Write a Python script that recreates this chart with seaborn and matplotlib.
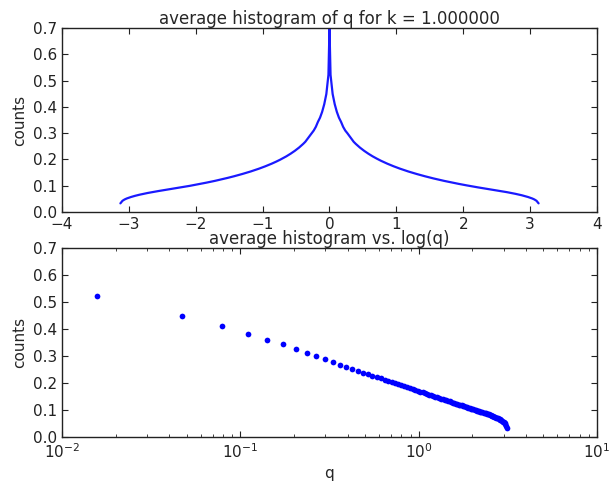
import matplotlib
matplotlib.use("Agg")
import matplotlib.pyplot as plt
import seaborn as sns
import pandas as pd

# positive-side bin centres of q
q_pos = [0.0157, 0.0471, 0.0785, 0.1100, 0.1414, 0.1728, 0.2042, 0.2356, 0.2670, 0.2985,
         0.3299, 0.3613, 0.3927, 0.4241, 0.4555, 0.4869, 0.5184, 0.5498, 0.5812, 0.6126,
         0.6440, 0.6754, 0.7069, 0.7383, 0.7697, 0.8011, 0.8325, 0.8639, 0.8954, 0.9268,
         0.9582, 0.9896, 1.0210, 1.0524, 1.0838, 1.1153, 1.1467, 1.1781, 1.2095, 1.2409,
         1.2723, 1.3038, 1.3352, 1.3666, 1.3980, 1.4294, 1.4608, 1.4923, 1.5237, 1.5551,
         1.5865, 1.6179, 1.6493, 1.6808, 1.7122, 1.7436, 1.7750, 1.8064, 1.8378, 1.8692,
         1.9007, 1.9321, 1.9635, 1.9949, 2.0263, 2.0577, 2.0892, 2.1206, 2.1520, 2.1834,
         2.2148, 2.2462, 2.2777, 2.3091, 2.3405, 2.3719, 2.4033, 2.4347, 2.4662, 2.4976,
         2.5290, 2.5604, 2.5918, 2.6232, 2.6546, 2.6861, 2.7175, 2.7489, 2.7803, 2.8117,
         2.8431, 2.8746, 2.9060, 2.9374, 2.9688, 3.0002, 3.0316, 3.0631, 3.0945, 3.1259]

counts_pos = [0.522, 0.449, 0.410, 0.381, 0.359, 0.343, 0.324, 0.310, 0.300, 0.289,
              0.278, 0.2673, 0.2593, 0.2520, 0.2451, 0.2388, 0.2328, 0.2272, 0.2219, 0.2168,
              0.2120, 0.2075, 0.2032, 0.1990, 0.1950, 0.1912, 0.1875, 0.1840, 0.1806, 0.1773,
              0.1741, 0.1710, 0.1680, 0.1651, 0.1623, 0.1596, 0.1569, 0.1543, 0.1518, 0.1494,
              0.1470, 0.1447, 0.1424, 0.1402, 0.1380, 0.1359, 0.1338, 0.1317, 0.1298, 0.1278,
              0.1259, 0.1240, 0.1222, 0.1204, 0.1186, 0.1169, 0.1152, 0.1135, 0.1119, 0.1102,
              0.1086, 0.1071, 0.1055, 0.1040, 0.1025, 0.1011, 0.0996, 0.0982, 0.0968, 0.0954,
              0.0940, 0.0927, 0.0914, 0.0900, 0.0888, 0.0875, 0.0862, 0.0850, 0.0838, 0.0826,
              0.0810, 0.0797, 0.0783, 0.0769, 0.0755, 0.0740, 0.0725, 0.0709, 0.0692, 0.0675,
              0.0657, 0.0638, 0.0617, 0.0595, 0.0571, 0.0545, 0.0515, 0.0478, 0.0428, 0.0330]

peak_q = 0.0
peak_count = 0.70

top_title = "average histogram of q for k = 1.000000"
bottom_title = "average histogram vs. log(q)"
y_label = "counts"
x_label = "q"

sns.set_style("ticks", {"xtick.direction": "in", "ytick.direction": "in"})
plt.rcParams["font.family"] = ["DejaVu Sans"]
plt.rcParams["xtick.top"] = True
plt.rcParams["ytick.right"] = True
plt.rcParams["axes.edgecolor"] = "#222222"
plt.rcParams["axes.linewidth"] = 1.0

full_q = [-v for v in reversed(q_pos)] + [peak_q] + q_pos
full_c = list(reversed(counts_pos)) + [peak_count] + counts_pos
df_top = pd.DataFrame({"q": full_q, "counts": full_c})
df_bot = pd.DataFrame({"q": q_pos, "counts": counts_pos})

fig = plt.figure(figsize=(6.13, 4.83), dpi=100)
ax1 = fig.add_axes([0.101, 0.561, 0.873, 0.381])
ax2 = fig.add_axes([0.101, 0.095, 0.873, 0.392])

sns.lineplot(data=df_top, x="q", y="counts", ax=ax1, color="#1a1aff", lw=1.6,
             sort=False, estimator=None)
ax1.set_xlim(-4, 4)
ax1.set_ylim(0, 0.7)
ax1.set_title(top_title, fontsize=12, pad=3)
ax1.set_ylabel(y_label, fontsize=11)
ax1.set_xlabel("")
ax1.set_yticks([0.0, 0.1, 0.2, 0.3, 0.4, 0.5, 0.6, 0.7])
ax1.set_yticklabels(["0.0", "0.1", "0.2", "0.3", "0.4", "0.5", "0.6", "0.7"])

sns.scatterplot(data=df_bot, x="q", y="counts", ax=ax2, color="#0000ff", s=17,
                edgecolor="#0000ff", linewidth=0)
ax2.set_xscale("log")
ax2.set_xlim(1e-2, 1e1)
ax2.set_ylim(0, 0.7)
ax2.set_title(bottom_title, fontsize=12, pad=2)
ax2.set_ylabel(y_label, fontsize=11)
ax2.set_xlabel(x_label, fontsize=11)
ax2.set_yticks([0.0, 0.1, 0.2, 0.3, 0.4, 0.5, 0.6, 0.7])
ax2.set_yticklabels(["0.0", "0.1", "0.2", "0.3", "0.4", "0.5", "0.6", "0.7"])

for ax in (ax1, ax2):
    ax.tick_params(which="both", direction="in", top=True, right=True,
                   labelsize=11, colors="#222222")
    ax.tick_params(which="major", length=4)
    ax.tick_params(which="minor", length=2)
    for s in ax.spines.values():
        s.set_visible(True)

fig.savefig("out.png", dpi=100, facecolor="white")
